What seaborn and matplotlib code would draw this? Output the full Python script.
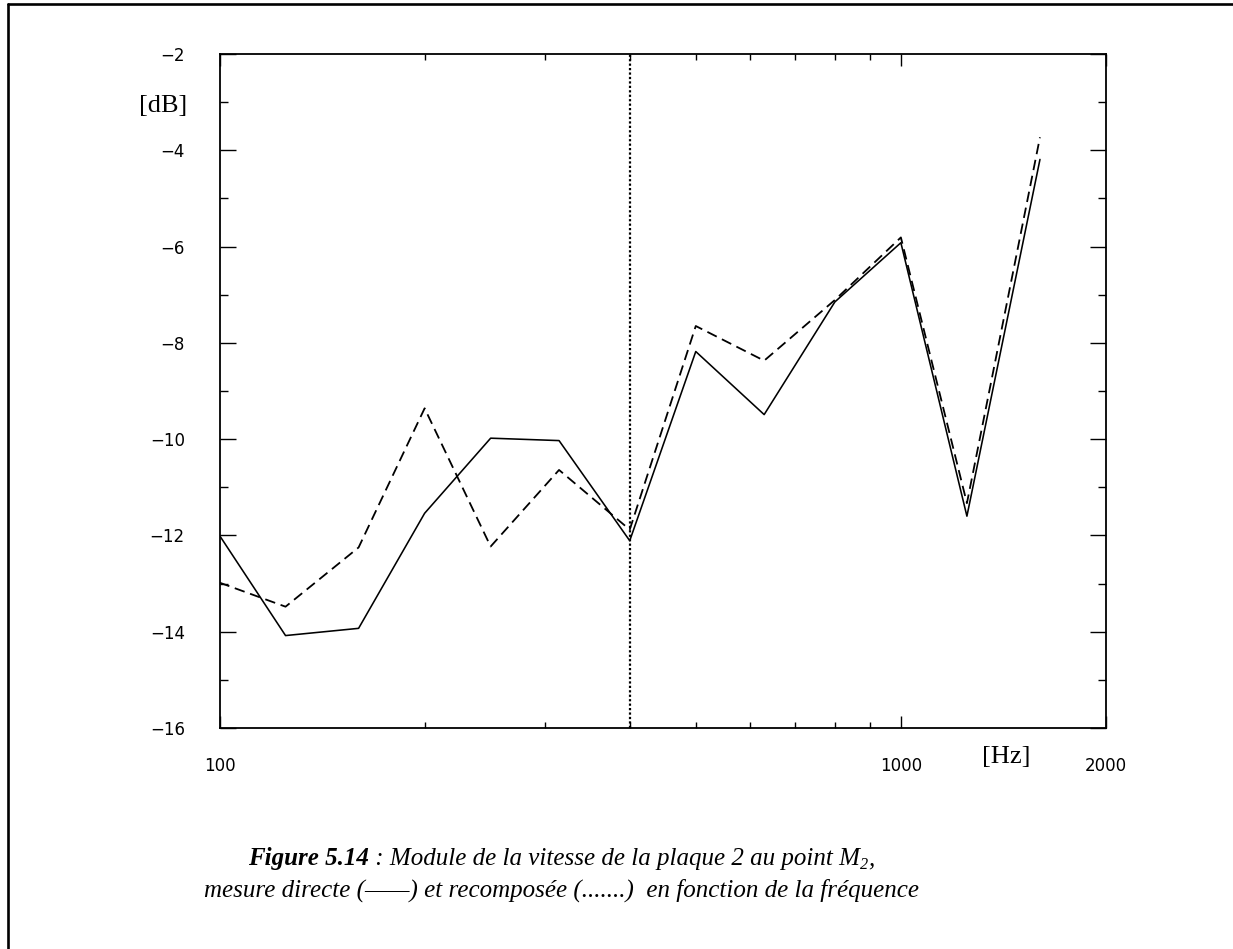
import numpy as np
import pandas as pd
import matplotlib
matplotlib.use("Agg")
import matplotlib.pyplot as plt
from matplotlib.lines import Line2D
import seaborn as sns

# ---- data ----
freqs = [100, 125, 160, 200, 250, 315, 400, 500, 630, 800, 1000, 1250, 1600]
direct = [-12.0, -14.08, -13.93, -11.54, -9.98, -10.03, -12.11,
          -8.18, -9.49, -7.15, -5.92, -11.6, -4.19]
recomposed = [-12.98, -13.48, -12.25, -9.36, -12.23, -10.64, -11.88,
              -7.65, -8.37, -7.11, -5.81, -11.33, -3.73]
vline_freq = 400
x_major = [100, 1000, 2000]
x_minor = [200, 300, 400, 500, 600, 700, 800, 900]
y_major = [-16, -14, -12, -10, -8, -6, -4, -2]
y_minor = [-15, -13, -11, -9, -7, -5, -3]

df_direct = pd.DataFrame({"f": freqs, "v": direct})
df_recomp = pd.DataFrame({"f": freqs, "v": recomposed})

sns.set_style("white")
plt.rcParams["font.family"] = ["DejaVu Sans"]
plt.rcParams["text.color"] = "black"
plt.rcParams["axes.labelcolor"] = "black"
plt.rcParams["xtick.color"] = "black"
plt.rcParams["ytick.color"] = "black"

W, H = 1233, 949
fig = plt.figure(figsize=(W / 100, H / 100), dpi=100)
fig.patch.set_facecolor("white")
ax = fig.add_axes([219.5 / W, 1 - 728 / H, (1106 - 219.5) / W, (728 - 54) / H])

sns.lineplot(data=df_direct, x="f", y="v", ax=ax, color="black", lw=1.15,
             estimator=None, sort=False)
sns.lineplot(data=df_recomp, x="f", y="v", ax=ax, color="black", lw=1.3,
             estimator=None, sort=False, linestyle=(0, (5.8, 3.2)))
ax.axvline(vline_freq, color="black", lw=1.6, ls=(0, (1, 1)))

ax.set_xscale("log")
ax.set_xlim(100, 2000)
ax.set_ylim(-16, -2)
ax.set_xticks(x_major)
ax.set_xticklabels([str(v) for v in x_major])
ax.set_xticks(x_minor, minor=True)
ax.set_xticklabels([], minor=True)
ax.set_yticks(y_major)
ax.set_yticklabels([f"\u2212{abs(v)}" for v in y_major])
ax.set_yticks(y_minor, minor=True)
ax.set_xlabel("")
ax.set_ylabel("")

for s in ax.spines.values():
    s.set_visible(True)
    s.set_linewidth(1.3)
    s.set_color("black")

ax.tick_params(axis="x", which="major", direction="in", length=8.6, width=1.0,
               top=True, bottom=True, labelsize=12, pad=21, colors="black")
ax.tick_params(axis="x", which="minor", direction="in", length=4.5, width=1.0,
               top=True, bottom=True, colors="black")
ax.tick_params(axis="y", which="major", direction="in", length=11.5, width=1.0,
               left=True, right=True, labelsize=12, pad=25, colors="black")
ax.tick_params(axis="y", which="minor", direction="in", length=6, width=1.0,
               left=True, right=True, colors="black")
ax.grid(False)

# unit labels
fig.text(163 / W, 1 - 106 / H, "[dB]", family="Liberation Serif", fontsize=19,
         ha="center", va="center", color="black")
fig.text(1006 / W, 1 - 757 / H, "[Hz]", family="Liberation Serif", fontsize=19,
         ha="center", va="center", color="black")

# figure border (top and left)
fig.add_artist(Line2D([7.5 / W, 1.0], [1 - 4 / H, 1 - 4 / H], color="black", lw=1.9,
                      transform=fig.transFigure))
fig.add_artist(Line2D([7.5 / W, 7.5 / W], [1 - 4 / H, 0.0], color="black", lw=1.9,
                      transform=fig.transFigure))

# caption
fig.canvas.draw()
renderer = fig.canvas.get_renderer()
cap_size = 18


def place_pieces(pieces, cx, cy):
    """pieces: list of (text, kwargs, dy_px). centered at cx (px), baseline cy (px)."""
    arts = []
    for t, kw, dy in pieces:
        a = fig.text(0, 0, t, fontsize=kw.get("size", cap_size),
                     family="Liberation Serif", style="italic",
                     weight=kw.get("weight", "normal"), color="black",
                     ha="left", va="baseline")
        arts.append((a, dy))
    widths = [a.get_window_extent(renderer).width for a, _ in arts]
    total = sum(widths)
    x = cx - total / 2
    for (a, dy), w in zip(arts, widths):
        a.set_position((x / W, 1 - (cy + dy) / H))
        x += w


place_pieces([
    ("Figure 5.14", {"weight": "bold"}, 0),
    (" : Module de la vitesse de la plaque 2 au point M", {}, 0),
    ("2", {"size": cap_size * 0.65}, 4),
    (",", {}, 0),
], 561, 865)

place_pieces([
    ("mesure directe (\u2014\u2014) et recompos\u00e9e (.......)  en fonction de la fr\u00e9quence", {}, 0),
], 562, 897)

fig.savefig("out.png", dpi=100, facecolor="white")
